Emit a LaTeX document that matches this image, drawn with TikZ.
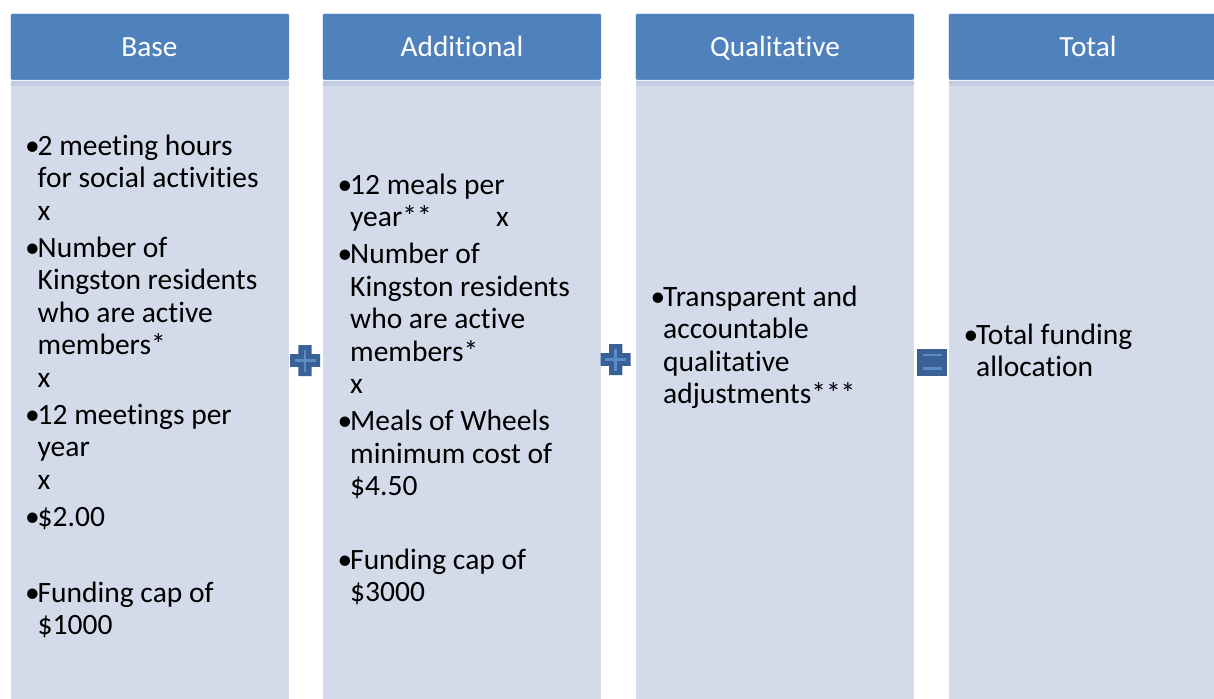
\documentclass[tikz,border=0pt]{standalone}
\usepackage{fontspec}
\setmainfont{Carlito}[Ligatures={NoCommon,NoContextual}]
\definecolor{hdr}{HTML}{4F81BD}
\definecolor{bodyc}{HTML}{D3DAEA}
\definecolor{bandc}{HTML}{C3CEE3}
\definecolor{sym}{HTML}{3A6196}
\definecolor{symlt}{HTML}{5B8BC9}
\newcommand{\bul}{\llap{\makebox[12.5pt][l]{•}}}
\tikzset{
  hdrbox/.style={fill=hdr, draw=white, line width=0.6pt, rounded corners=1.5pt, inner sep=0pt, minimum width=279pt, minimum height=67pt, anchor=north west},
  bodybox/.style={fill=bodyc, draw=white, line width=0.6pt, inner sep=0pt, minimum width=279pt, minimum height=640pt, anchor=north west},
  bandbox/.style={fill=bandc, inner sep=0pt, minimum width=278pt, minimum height=5pt, anchor=north west},
  hdrtext/.style={anchor=base, inner sep=0pt, text=white, font=\fontsize{29.3}{32.5}\selectfont},
  coltext/.style={anchor=base west, align=left, inner sep=0pt, font=\fontsize{29.5}{32.5}\selectfont},
  symdark/.style={fill=sym},
  symlight/.style={draw=symlt, line width=2.5pt}
}
\begin{document}
\begin{tikzpicture}[x=1pt,y=-1pt]
\useasboundingbox (0,0) rectangle (1214,698);
\clip (0,0) rectangle (1214,698);
% columns
\foreach \i/\x in {1/10,2/322,3/635,4/948}{
  \node[bodybox] (body\i) at (\x,80) {};
  \node[bandbox] (band\i) at (\x+0.5,80.5) {};
  \node[hdrbox] (head\i) at (\x,13) {};
}
\node[hdrtext] (h1) at (149.5,57) {Base};
\node[hdrtext] (h2) at (462,57) {Additional};
\node[hdrtext] (h3) at (775,57) {Qualitative};
\node[hdrtext] (h4) at (1088,57) {Total};
% texts (anchored at the baseline of the last line)
\node[coltext] (t1) at (37.5,634.5) {\bul 2 meeting hours\\
for social activities\\
x\\[4.5pt]
\bul Number of\\
Kingston residents\\
who are active\\
members*\\
x\\[4.5pt]
\bul 12 meetings per\\
year\\
x\\[4.5pt]
\bul \$2.00\\[43.5pt]
\bul Funding cap of\\
\$1000};
\node[coltext] (t2) at (350,601.5) {\bul 12 meals per\\
\makebox[146pt][l]{year**}x\\[4.5pt]
\bul Number of\\
Kingston residents\\
who are active\\
members*\\
x\\[4.5pt]
\bul Meals of Wheels\\
minimum cost of\\
\$4.50\\[41pt]
\bul Funding cap of\\
\$3000};
\node[coltext] (t3) at (663,403.5) {\bul Transparent and\\
accountable\\
qualitative\\
adjustments***};
\node[coltext] (t4) at (976,376.5) {\bul Total funding\\
allocation};
% plus signs
\foreach \cx/\cy in {305/360.5, 615.7/359.5}{
  \fill[symdark] (\cx-6.7,\cy-15.5) -- (\cx+6.7,\cy-15.5) -- (\cx+6.7,\cy-6.3) -- (\cx+15,\cy-6.3) -- (\cx+15,\cy+6.3) -- (\cx+6.7,\cy+6.3) -- (\cx+6.7,\cy+15.5) -- (\cx-6.7,\cy+15.5) -- (\cx-6.7,\cy+6.3) -- (\cx-15,\cy+6.3) -- (\cx-15,\cy-6.3) -- (\cx-6.7,\cy-6.3) -- cycle;
  \draw[symlight] (\cx-10.5,\cy) -- (\cx+10.5,\cy);
  \draw[symlight] (\cx,\cy-11) -- (\cx,\cy+11);
}
% equals sign
\fill[symdark] (917.3,349) rectangle (946.7,375.7);
\draw[symlight] (922.7,355) -- (941.7,355);
\draw[symlight] (922.7,368.7) -- (941.7,368.7);
\end{tikzpicture}
\end{document}
